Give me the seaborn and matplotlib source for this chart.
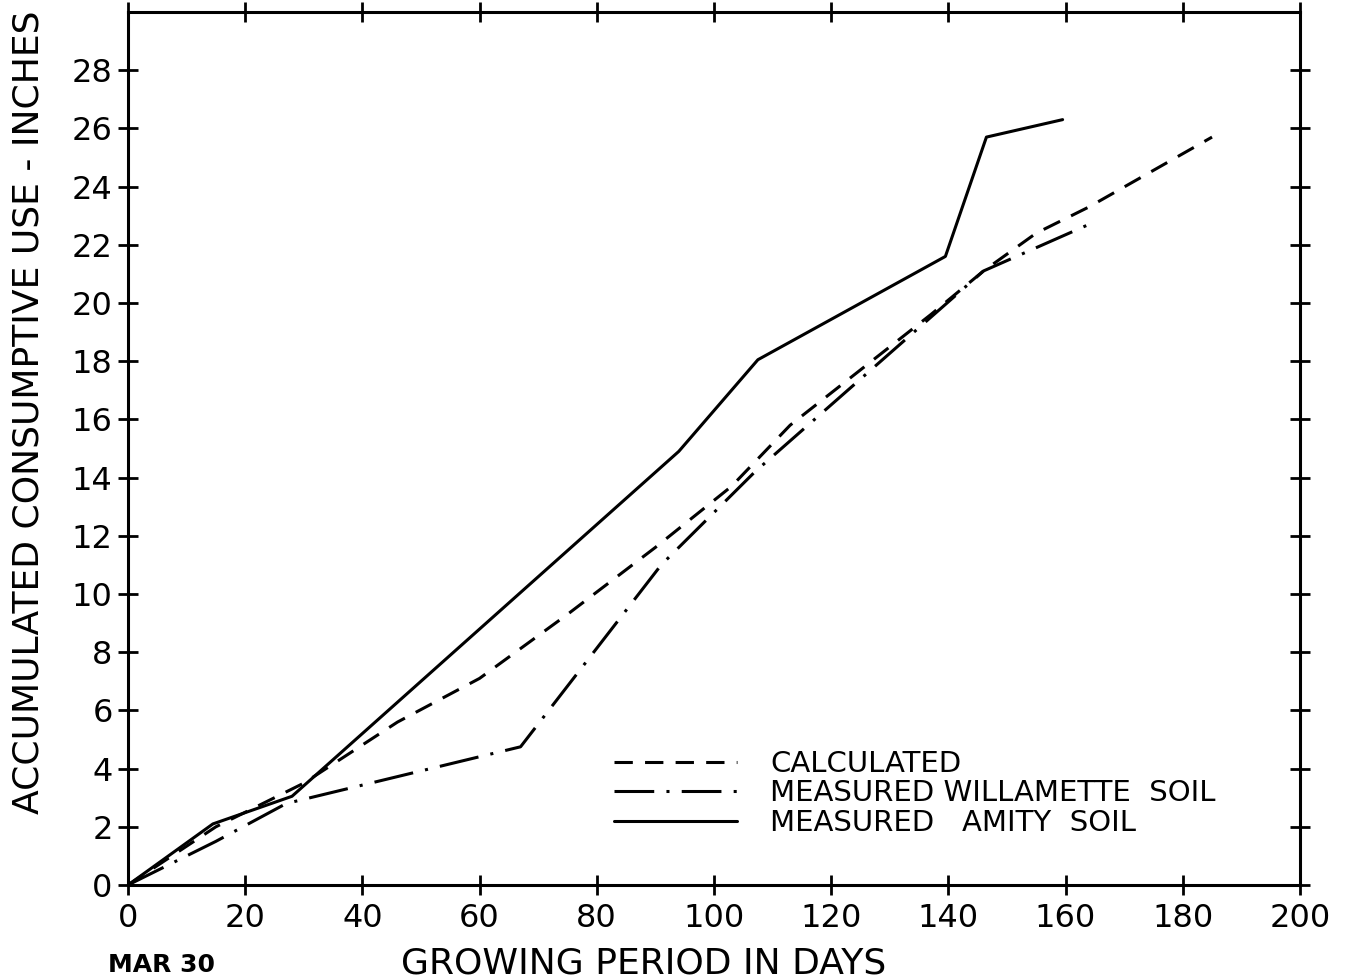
import pandas as pd
import seaborn as sns
import matplotlib.pyplot as plt

# Values (days from Mar 30, accumulated inches)
calc_days = [0, 15, 30, 46, 60, 75, 90, 103, 113, 125, 137, 146, 155, 164, 185]
calc_use = [0, 2.0, 3.5, 5.6, 7.1, 9.3, 11.6, 13.7, 15.8, 17.7, 19.6, 21.1, 22.4, 23.3, 25.7]

will_days = [0, 15, 27, 67, 91, 107, 146, 164]
will_use = [0, 1.5, 2.8, 4.75, 11.0, 14.2, 21.1, 22.7]

amity_days = [0, 14.5, 28, 94, 107.5, 139.5, 146.5, 159.5]
amity_use = [0, 2.1, 3.05, 14.9, 18.05, 21.6, 25.7, 26.3]

x_ticks = list(range(0, 201, 20))
y_ticks = list(range(0, 29, 2))

sns.set_style('ticks')
plt.rcParams['font.family'] = ['DejaVu Sans']
plt.rcParams['text.color'] = 'black'

fig = plt.figure(figsize=(13.51, 9.80), dpi=100)
ax = fig.add_axes([0.0947, 0.0969, 0.8675, 0.8909])

sns.lineplot(x=calc_days, y=calc_use, ax=ax, color='black', lw=2.2,
             linestyle=(0, (6, 4)), label='CALCULATED')
sns.lineplot(x=will_days, y=will_use, ax=ax, color='black', lw=2.2,
             linestyle=(0, (13, 4, 1, 4)), label='MEASURED WILLAMETTE  SOIL')
sns.lineplot(x=amity_days, y=amity_use, ax=ax, color='black', lw=2.2,
             linestyle='-', label='MEASURED   AMITY  SOIL')

ax.set_xlim(0, 200)
ax.set_ylim(0, 30)
ax.set_xticks(x_ticks)
ax.set_yticks(y_ticks)
ax.tick_params(direction='inout', length=14, width=2, labelsize=23,
               top=True, right=True, color='black', labelcolor='black')
ax.tick_params(axis='x', pad=6)
ax.tick_params(axis='y', pad=4)
for s in ax.spines.values():
    s.set_linewidth(2.2)
    s.set_color('black')

fig.text(0.021, 0.579, 'ACCUMULATED CONSUMPTIVE USE - INCHES', fontsize=26,
         rotation=90, ha='center', va='center')
fig.text(0.4767, 0.017, 'GROWING PERIOD IN DAYS', fontsize=26,
         ha='center', va='center')
fig.text(0.08, 0.015, 'MAR 30', fontsize=18, ha='left', va='center',
         weight='bold')

leg = ax.legend(loc='upper left', bbox_to_anchor=(0.405, 0.168), frameon=False,
                fontsize=21, handlelength=4.2, handletextpad=1.15,
                labelspacing=0.05, borderaxespad=0)
for t in leg.get_texts():
    t.set_color('black')

fig.savefig('out.png', dpi=100)
